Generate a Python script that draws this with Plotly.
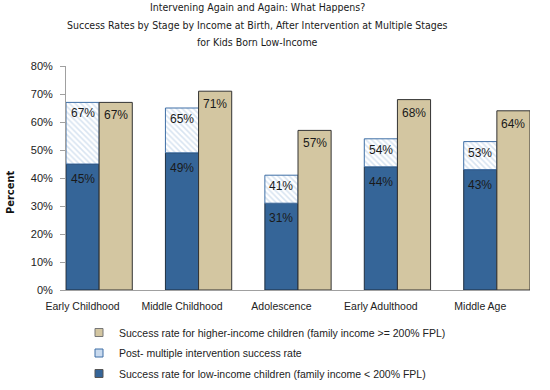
import plotly.graph_objects as go

stages = ["Early Childhood", "Middle Childhood", "Adolescence", "Early Adulthood", "Middle Age"]
low_income = [45, 49, 31, 44, 43]
post_intervention = [67, 65, 41, 54, 53]
higher_income = [67, 71, 57, 68, 64]
y_ticks = [0, 10, 20, 30, 40, 50, 60, 70, 80]
title_lines = [
    "Intervening Again and Again: What Happens?",
    "Success Rates by Stage by Income at Birth, After Intervention at Multiple Stages",
    "for Kids Born Low-Income",
]

NAME_LOW = "Success rate for low-income children (family income < 200% FPL)"
NAME_POST = "Post- multiple intervention success rate"
NAME_HIGH = "Success rate for higher-income children (family income >= 200% FPL)"

x = list(range(len(stages)))
post_extra = [p - l for p, l in zip(post_intervention, low_income)]

BASE_FONT = "Liberation Sans, Arial, sans-serif"
COND_FONT = "DejaVu Sans Condensed, Liberation Sans Narrow, sans-serif"
LABEL_FONT = dict(family=BASE_FONT, size=12, color="#1a1a1a")
BLUE = "#356598"
TAN = "#d3c6a1"

fig = go.Figure()
fig.add_trace(go.Bar(
    x=x, y=low_income, width=1/3, offset=-1/3, showlegend=False,
    marker=dict(color=BLUE, line=dict(color="#1f2f40", width=1)),
))
fig.add_trace(go.Bar(
    x=x, y=post_extra, base=low_income, width=1/3, offset=-1/3, showlegend=False,
    marker=dict(color="white", line=dict(color="#3f6fa6", width=1),
                pattern=dict(shape="\\", fgcolor="#b2c9e3", bgcolor="white", size=4, solidity=0.4)),
))
fig.add_trace(go.Bar(
    x=x, y=higher_income, width=1/3, offset=0, showlegend=False,
    marker=dict(color=TAN, line=dict(color="#333333", width=1)),
))

# value labels placed just below each bar top
for xi, v in zip(x, low_income):
    fig.add_annotation(x=xi - 1/6, y=v, text=f"{v}%", showarrow=False, yanchor="top",
                       yshift=-6, font=LABEL_FONT)
for xi, v in zip(x, post_intervention):
    fig.add_annotation(x=xi - 1/6, y=v, text=f"{v}%", showarrow=False, yanchor="top",
                       yshift=-2, font=LABEL_FONT)
for xi, v in zip(x, higher_income):
    fig.add_annotation(x=xi + 1/6, y=v, text=f"{v}%", showarrow=False, yanchor="top",
                       yshift=-4, font=LABEL_FONT)

# legend-only entries (small square swatches)
for i, (name, fill, edge) in enumerate([(NAME_HIGH, TAN, "#777777"),
                                        (NAME_POST, "#c9daee", "#3f6fa6"),
                                        (NAME_LOW, BLUE, "#555555")]):
    fig.add_trace(go.Scatter(
        x=[None], y=[None], mode="markers", name=name, legendgroup=f"g{i}",
        marker=dict(symbol="square", size=8, color=fill, line=dict(color=edge, width=1)),
    ))

fig.update_layout(
    width=550, height=390,
    barmode="overlay",
    plot_bgcolor="white", paper_bgcolor="white",
    margin=dict(l=66, r=20, t=66, b=100, autoexpand=False),
    font=dict(family=BASE_FONT, size=11, color="#222222"),
    xaxis=dict(
        range=[-1/3, len(stages) - 1 + 1/3],
        tickvals=[xi - 1/6 for xi in x], ticktext=stages,
        showline=True, linecolor="#a0a0a0", linewidth=1,
        ticks="", showgrid=False, zeroline=False,
        tickfont=dict(size=10.5), ticklabelstandoff=6,
    ),
    yaxis=dict(
        range=[0, 80], tickvals=y_ticks, ticktext=[f"{v}%" for v in y_ticks],
        showline=True, linecolor="#a0a0a0", linewidth=1,
        ticks="outside", ticklen=5, tickcolor="#a0a0a0",
        showgrid=False, zeroline=False,
        tickfont=dict(size=11), ticklabelstandoff=5,
    ),
    legend=dict(
        orientation="v", x=79 / 550, xanchor="left", xref="container",
        y=1 - 318 / 390, yanchor="top", yref="container",
        font=dict(size=10.5), traceorder="grouped", tracegroupgap=1.5, itemwidth=30,
        bgcolor="rgba(0,0,0,0)",
    ),
    showlegend=True,
)

for line, cy in zip(title_lines, [7, 25, 42]):
    fig.add_annotation(
        text=line, xref="paper", yref="paper", x=(257 - 66) / 464, y=1, yshift=66 - cy,
        xanchor="center", yanchor="middle", showarrow=False,
        font=dict(family=COND_FONT, size=10.5, color="#1a1a1a"),
    )
fig.add_annotation(
    text="<b>Percent</b>", textangle=-90,
    xref="paper", yref="paper", x=0, xshift=-56, y=(290 - 193) / 224,
    xanchor="center", yanchor="middle", showarrow=False,
    font=dict(family=COND_FONT, size=11, color="#111111"),
)

fig.write_html("out.html", config={"displayModeBar": False},
               post_script="document.body.style.margin='0';")
